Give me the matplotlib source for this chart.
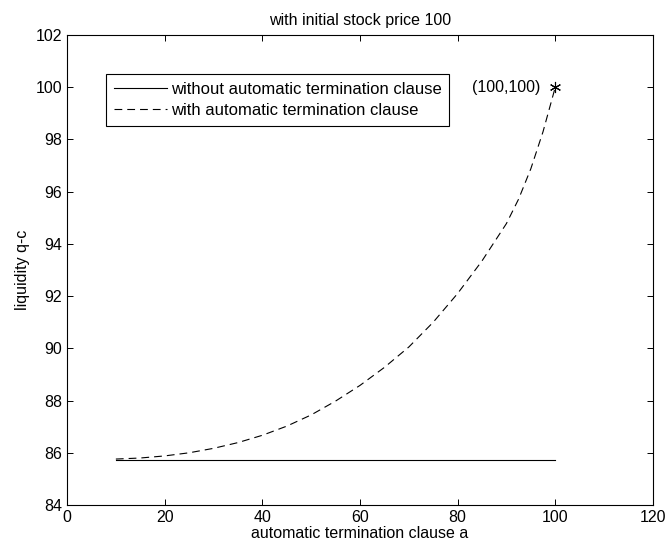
import numpy as np
import matplotlib
matplotlib.use("Agg")
import matplotlib.pyplot as plt

plt.rcParams['font.family'] = ['Liberation Sans', 'DejaVu Sans']

# clause values a and liquidity readings
a_values = [10, 15, 20, 25, 30, 35, 40, 45, 50, 55, 60, 65, 70, 75, 80, 85, 90, 92.5, 95, 97.5, 100]
with_clause = [85.76, 85.80, 85.88, 86.00, 86.17, 86.39, 86.67, 87.02, 87.45, 87.98, 88.58,
               89.27, 90.05, 91.00, 92.10, 93.35, 94.78, 95.72, 96.88, 98.30, 100.00]
without_clause = [85.74] * len(a_values)
end_point = (100, 100)

x_ticks = [0, 20, 40, 60, 80, 100, 120]
y_ticks = [84, 86, 88, 90, 92, 94, 96, 98, 100, 102]

fs = 11.5

fig = plt.figure(figsize=(6.65, 5.5), dpi=100)
ax = fig.add_axes([0.1008, 0.0818, 0.881, 0.8545])

ax.plot(a_values, without_clause, color='black', linewidth=0.8,
        label='without automatic termination clause')
ax.plot(a_values, with_clause, color='black', linewidth=0.8, linestyle=(0, (7, 4.5)),
        label='with automatic termination clause')
ax.plot([end_point[0]], [end_point[1]], marker=(6, 2, 0), color='black',
        markersize=8, markeredgewidth=0.8, linestyle='none')
ax.annotate('(100,100)', xy=end_point, xytext=(-11, 0), textcoords='offset points',
            ha='right', va='center', fontsize=fs)

ax.set_xlim(0, 120)
ax.set_ylim(84, 102)
ax.set_xticks(x_ticks)
ax.set_yticks(y_ticks)
ax.tick_params(direction='in', top=True, right=True, length=4, width=0.7, labelsize=fs)
for spine in ax.spines.values():
    spine.set_linewidth(0.8)

ax.set_title('with initial stock price 100', fontsize=fs, pad=7)
ax.set_xlabel('automatic termination clause a', fontsize=fs, labelpad=1)
ax.set_ylabel('liquidity q-c', fontsize=fs, labelpad=4)

leg = ax.legend(loc='upper left', bbox_to_anchor=(0.0666, 0.917), borderaxespad=0,
                fancybox=False, edgecolor='black', framealpha=1, fontsize=12,
                handlelength=3.2, handletextpad=0.25, borderpad=0.45, labelspacing=0.4)
leg.get_frame().set_linewidth(0.8)

fig.savefig('out.png', dpi=100, facecolor='white')
